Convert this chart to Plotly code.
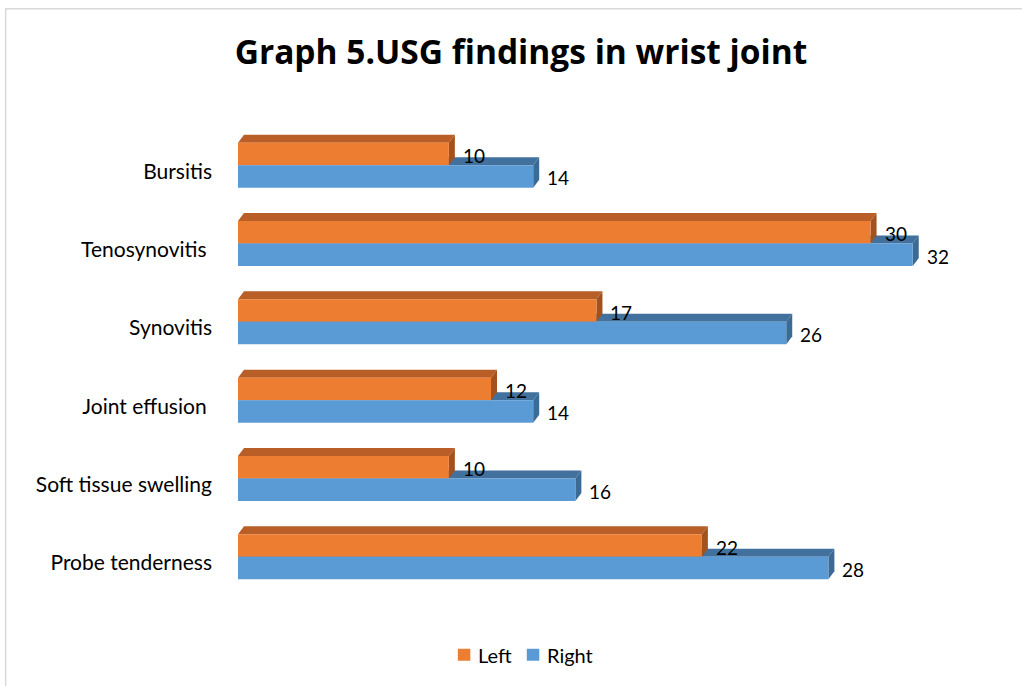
import plotly.graph_objects as go

# ---- data -----------------------------------------------------------------
categories = ["Bursitis", "Tenosynovitis ", "Synovitis", "Joint effusion ",
              "Soft tissue swelling", "Probe tenderness"]
left_values = [10, 30, 17, 12, 10, 22]
right_values = [14, 32, 26, 14, 16, 28]
series_names = ["Left", "Right"]

# ---- geometry --------------------------------------------------------------
W, H = 1022, 686
X_MAX = 35.0
PX_PER_X = 21.1            # horizontal pixels per unit
PX_PER_CAT = 78.4          # vertical pixels per category
ML = 238
PLOT_W = X_MAX * PX_PER_X
MR = W - ML - PLOT_W
N = len(categories)
MT = 165 - PX_PER_CAT / 2
PLOT_H = N * PX_PER_CAT
MB = H - MT - PLOT_H

BAR_PX = 22.5
BAR_W = BAR_PX / PX_PER_CAT
DX = 6 / PX_PER_X          # depth of the 3-D extrusion, data units
DY = 8 / PX_PER_CAT

FRONT = {"Left": "#ED7D31", "Right": "#5B9BD5"}
TOP = {"Left": "#BA5E27", "Right": "#41719C"}
SIDE = {"Left": "#A3521F", "Right": "#3B6A94"}

LABEL_FONT = "Lato, Open Sans, sans-serif"

pos = list(range(N))

fig = go.Figure()
fig.add_trace(go.Bar(
    name=series_names[0], x=left_values, y=pos, orientation="h",
    width=BAR_W, offset=-BAR_W, marker=dict(color=FRONT["Left"], line=dict(width=0)),
))
fig.add_trace(go.Bar(
    name=series_names[1], x=right_values, y=pos, orientation="h",
    width=BAR_W, offset=0, marker=dict(color=FRONT["Right"], line=dict(width=0)),
))


def faces(v, yt, yb, key):
    top = (f"M 0,{yt} L {v},{yt} L {v + DX},{yt - DY} L {DX},{yt - DY} Z")
    side = (f"M {v},{yt} L {v + DX},{yt - DY} L {v + DX},{yb - DY} L {v},{yb} Z")
    return [
        dict(type="path", path=top, xref="x", yref="y", layer="below",
             fillcolor=TOP[key], line=dict(width=0)),
        dict(type="path", path=side, xref="x", yref="y", layer="below",
             fillcolor=SIDE[key], line=dict(width=0)),
    ]


shapes = []
annotations = []
for i in pos:
    shapes += faces(right_values[i], i, i + BAR_W, "Right")
    shapes += faces(left_values[i], i - BAR_W, i, "Left")
    annotations.append(dict(x=left_values[i], y=i - BAR_W / 2 + 1.5 / PX_PER_CAT,
                            text=str(left_values[i]), showarrow=False,
                            xanchor="left", yanchor="middle", xshift=12,
                            font=dict(size=19, color="#000000")))
    annotations.append(dict(x=right_values[i], y=i + BAR_W / 2 + 1.5 / PX_PER_CAT,
                            text=str(right_values[i]), showarrow=False,
                            xanchor="left", yanchor="middle", xshift=12,
                            font=dict(size=19, color="#000000")))

# pixel -> paper helpers for items placed outside the plot area
fx = lambda px: (px - ML) / PLOT_W
fy = lambda py: 1 - (py - MT) / PLOT_H

# chart-area frame (top and left edges)
shapes.append(dict(type="line", xref="paper", yref="paper",
                   x0=fx(5), x1=fx(W + 5), y0=fy(8.5), y1=fy(8.5),
                   line=dict(color="#D9D9D9", width=1.5), layer="above"))
shapes.append(dict(type="line", xref="paper", yref="paper",
                   x0=fx(5.5), x1=fx(5.5), y0=fy(8), y1=fy(H + 5),
                   line=dict(color="#D9D9D9", width=1.5), layer="above"))

# legend: coloured key squares with series names
legend_items = [(series_names[0], FRONT["Left"], 458, 477),
                (series_names[1], FRONT["Right"], 527, 546)]
for name, col, sx, tx in legend_items:
    shapes.append(dict(type="rect", xref="paper", yref="paper",
                       x0=fx(sx), x1=fx(sx + 12.5), y0=fy(661), y1=fy(649),
                       fillcolor=col, line=dict(width=0), layer="above"))
    annotations.append(dict(xref="paper", yref="paper", x=fx(tx), y=fy(655.5),
                            text=name, showarrow=False, xanchor="left",
                            yanchor="middle", borderpad=0,
                            font=dict(size=20, color="#000000")))

fig.update_layout(
    width=W, height=H, autosize=False,
    margin=dict(l=ML, r=MR, t=MT, b=MB, pad=0),
    paper_bgcolor="white", plot_bgcolor="white",
    font=dict(family=LABEL_FONT, color="#000000"),
    title=dict(text="<b>Graph 5.USG findings in wrist joint</b>",
               x=521 / W, xref="container", xanchor="center",
               y=1 - 52 / H, yref="container", yanchor="middle",
               font=dict(size=33.5, color="#000000", family="Open Sans, sans-serif")),
    barmode="overlay",
    showlegend=False,
    xaxis=dict(range=[0, X_MAX], visible=False, fixedrange=True),
    yaxis=dict(range=[N - 0.5, -0.5], tickvals=[p + 6 / PX_PER_CAT for p in pos],
               ticktext=categories, showgrid=False, zeroline=False,
               showline=False, ticks="", ticklabelstandoff=25,
               tickfont=dict(size=21, color="#000000")),
    shapes=shapes,
    annotations=annotations,
)

fig.write_html("out.html")
